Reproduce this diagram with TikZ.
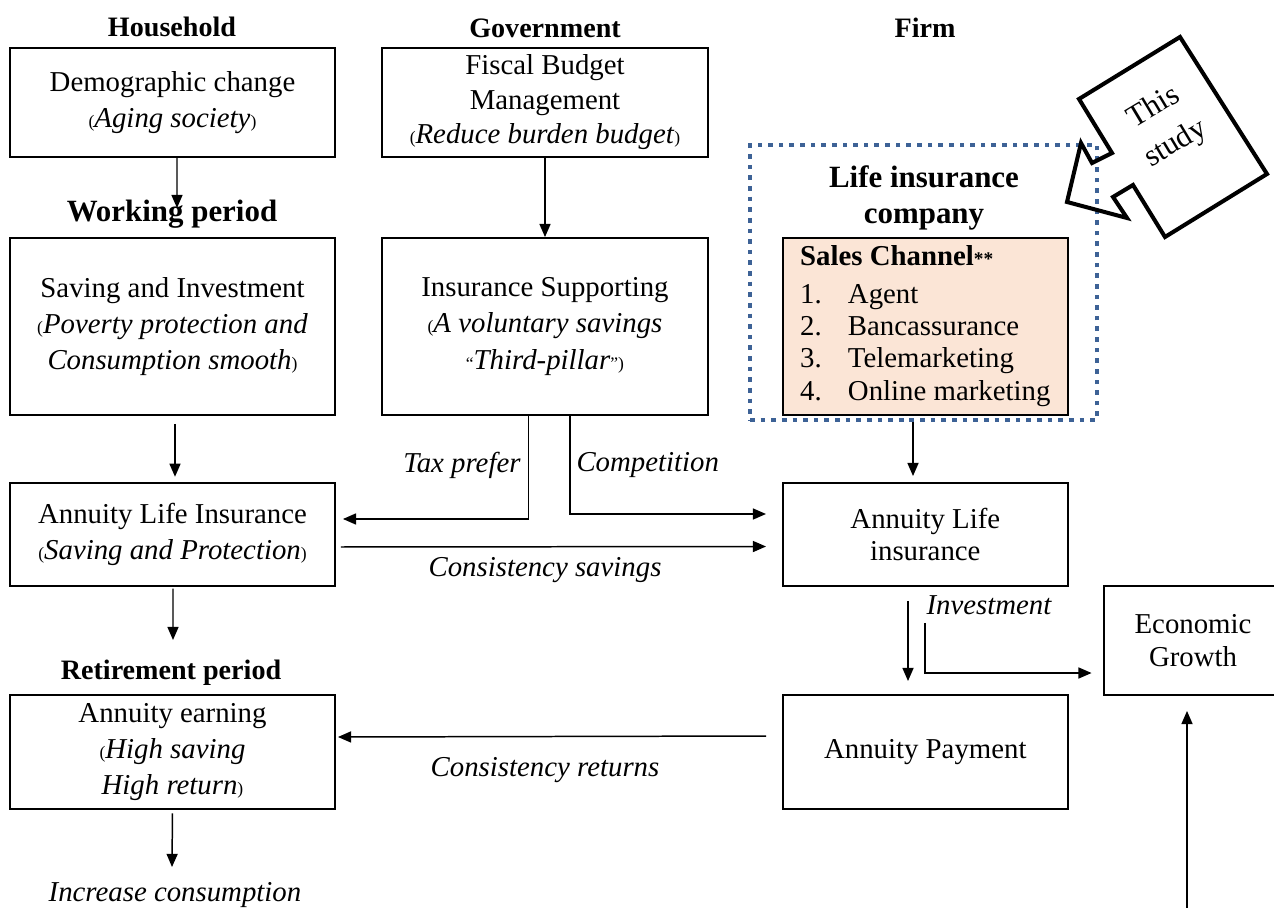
\documentclass[tikz,border=0pt]{standalone}
\usepackage{fontspec}
\setmainfont{Liberation Serif}
\usetikzlibrary{arrows.meta,calc}

\definecolor{peach}{HTML}{FBE5D6}
\definecolor{studyblue}{RGB}{61,98,150}

\newcommand{\mini}[1]{{\fontsize{10pt}{10pt}\selectfont #1}}

\begin{document}
\begin{tikzpicture}[x=0.02cm,y=-0.02cm,line width=0.85pt,>={Triangle[length=7.5pt,width=6.3pt]},
  box/.style={draw,line width=1.1pt,inner sep=0pt,align=center},
  txt/.style={font=\fontsize{16.4pt}{20.6pt}\selectfont},
  rtxt/.style={font=\fontsize{16.4pt}{18.4pt}\selectfont},
  head/.style={inner sep=0pt,font=\fontsize{16pt}{19pt}\selectfont\bfseries},
  big/.style={inner sep=0pt,align=center,font=\fontsize{17.6pt}{21pt}\selectfont\bfseries},
  lbl/.style={inner sep=1pt,font=\fontsize{16.4pt}{19pt}\selectfont\itshape}]
\useasboundingbox (0,0) rectangle (1274,908);
\def\lw{6.5cm}    % household column
\def\mw{6.52cm}   % government column
\def\rw{5.71cm}   % firm column

% column heads
\node[head] (hh)   at (172,27) {Household};
\node[head] (gov)  at (545,28) {Government};
\node[head] (firm) at (925,28) {Firm};

% household
\node[box,txt,minimum width=\lw,minimum height=2.18cm] (demo) at (172.5,102.5)
  {Demographic change\\\mini{(}\textit{Aging society}\mini{)}};
\node[big] (wp) at (172,214) {Working period};
\node[box,txt,minimum width=\lw,minimum height=3.54cm] (sav) at (172.5,326.5)
  {Saving and Investment\\\mini{(}\textit{Poverty protection and}\\\textit{Consumption smooth}\mini{)}};
\node[box,txt,minimum width=\lw,minimum height=2.06cm] (ali) at (172.5,534.5)
  {Annuity Life Insurance\\\mini{(}\textit{Saving and Protection}\mini{)}};
\node[head] (rp) at (171,673) {Retirement period};
\node[box,txt,minimum width=\lw,minimum height=2.28cm] (earn) at (172.5,752)
  {Annuity earning\\\mini{(}\textit{High saving}\\\textit{High return}\mini{)}};
\node[lbl] (ic) at (175,895) {Increase consumption};

% government
\node[box,font=\fontsize{16.4pt}{19.6pt}\selectfont,minimum width=\mw,minimum height=2.18cm] (fiscal) at (545,102.5)
  {Fiscal Budget\\Management\\\mini{(}\textit{Reduce burden budget}\mini{)}};
\node[box,txt,minimum width=\mw,minimum height=3.54cm] (ins) at (545,326.5)
  {Insurance Supporting\\\mini{(}\textit{A voluntary savings}\\\mini{“}\textit{Third-pillar}\mini{”)}};

% firm
\node[draw=studyblue,line width=2.65pt,dash pattern=on 2.65pt off 3.4pt,
  minimum width=6.94cm,minimum height=5.5cm] (focus) at (923.5,282.5) {};
\node[big] (lic) at (924,198) {Life insurance\\company};
\node[box,rtxt,fill=peach,minimum width=\rw,minimum height=3.54cm,align=left] (sales) at (925.3,326.5)
  {\begin{tabular}{@{}p{27.2pt}@{}l@{}}
   \multicolumn{2}{@{}l@{}}{\textbf{Sales Channel}{\fontsize{11pt}{11pt}\selectfont\bfseries**}}\\[3pt]
   1.&Agent\\
   2.&Bancassurance\\
   3.&Telemarketing\\
   4.&Online marketing
   \end{tabular}};
\node[box,rtxt,minimum width=\rw,minimum height=2.06cm] (alr) at (925.3,534.5) {Annuity Life\\insurance};
\node[box,rtxt,minimum width=\rw,minimum height=2.28cm] (pay) at (925.3,752) {Annuity Payment};
\node[box,rtxt,minimum width=3.56cm,minimum height=2.18cm] (eco) at (1193,640.5) {Economic\\Growth};

% this study
\draw[line width=2.3pt,line join=miter]
  (1067,202) -- (1081,143) -- (1092,163) -- (1112,153) -- (1079,99) -- (1180,37)
  -- (1267,174) -- (1165,237) -- (1133,185) -- (1113,197) -- (1127,218) -- cycle;
\node[rotate=31,align=center,font=\fontsize{17.5pt}{24pt}\selectfont] (study) at (1165,126) {This\\study};

% flow labels
\node[lbl,anchor=east] (tax)  at (523,465) {Tax prefer};
\node[lbl,anchor=west] (comp) at (574,465) {Competition};
\node[lbl] (cs)  at (545,570) {Consistency savings};
\node[lbl] (cr)  at (545,770) {Consistency returns};
\node[lbl,anchor=west] (inv) at (924,605) {Investment};

% free ends
\coordinate (wpin) at (177,208);
\coordinate (rpin) at (173,640);
\coordinate (icin) at (172,867);
\coordinate (ecoin) at (1187,908);

% connectors
\draw[->] ($(demo.south)+(4.5,0)$) -- (wpin);
\draw[->] (fiscal) -- (ins);
\draw[->,shorten <=4.5pt,shorten >=3pt] ($(sav.south)+(2.5,0)$) -- ($(ali.north)+(2.5,0)$);
\draw[->] ($(ins.south)+(-16.5,0)$) |- ($(ali.east)+(7,-15.5)$);
\draw[->] ($(ins.south)+(25,0)$) |- ($(alr.west)+(-15.6,-20.5)$);
\draw[->] ($(ali.east)+(5,12.5)$) -- ($(alr.west)+(-15.6,12)$);
\draw[->,shorten <=1pt] ($(ali.south)+(0.5,0)$) -- (rpin);
\draw[->] ($(pay.west)+(-15.6,-16)$) -- ($(earn.east)+(2,-15)$);
\draw[->,shorten <=2pt] (earn.south) -- (icin);
\draw[->] ($(focus.south)+(-10.5,0)$) -- ($(alr.north)+(-12.3,-6)$);
\draw[->] ($(alr.south)+(-17.3,14)$) -- ($(pay.north)+(-17.3,-13)$);
\draw[->] ($(alr.south)+(-0.3,36)$) |- ($(eco.west)+(-11.5,32.5)$);
\draw[->] (ecoin) -- ($(eco.south)+(-6,15)$);
\end{tikzpicture}
\end{document}
